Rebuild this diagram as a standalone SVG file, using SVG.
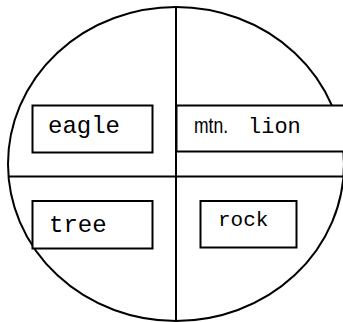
<svg xmlns="http://www.w3.org/2000/svg" width="343" height="322" viewBox="0 0 343 322">
<style>
.box{fill:#fff;stroke:#000;stroke-width:2}
.line{stroke:#000;stroke-width:2;fill:none}
.mono{font-family:"Liberation Mono","Courier New",monospace;fill:#000}
.sans{font-family:"Liberation Sans",Arial,sans-serif;fill:#000}
</style>
<rect width="343" height="322" fill="#fff"/>
<g id="connectors">
<ellipse class="line" cx="176" cy="164" rx="168" ry="157"/>
<line class="line" x1="176" y1="7" x2="176" y2="321"/>
<line class="line" x1="8" y1="176.5" x2="343" y2="176.5"/>
</g>
<g id="eagle">
<rect class="box" x="32.5" y="105.5" width="120" height="47"/>
<text class="mono" x="48" y="133" font-size="24">eagle</text>
</g>
<g id="mtn-lion">
<rect class="box" x="176.5" y="105.5" width="180" height="46"/>
<text class="sans" x="194" y="133" font-size="22" textLength="34" lengthAdjust="spacingAndGlyphs">mtn.</text>
<text class="mono" x="248" y="133" font-size="22">lion</text>
</g>
<g id="tree">
<rect class="box" x="32.5" y="201" width="120" height="47.5"/>
<text class="mono" x="49" y="232" font-size="24">tree</text>
</g>
<g id="rock">
<rect class="box" x="200.5" y="201" width="96" height="46.5"/>
<text class="mono" x="218" y="226" font-size="21">rock</text>
</g>
</svg>
